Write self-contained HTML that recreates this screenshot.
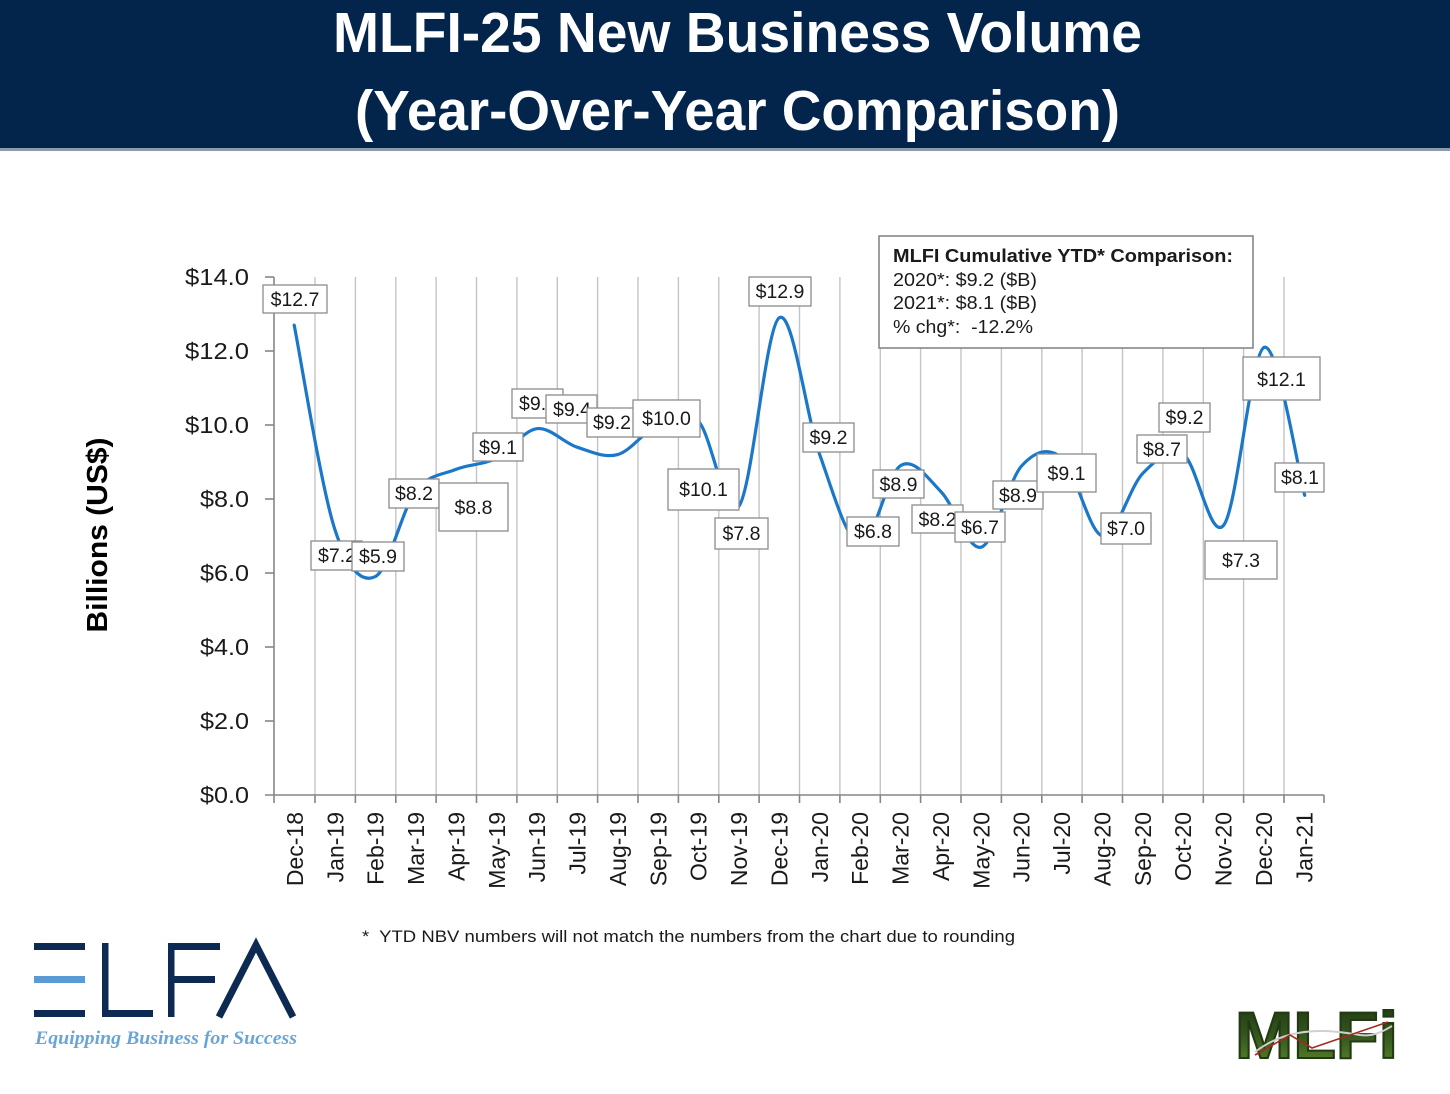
<!DOCTYPE html>
<html><head><meta charset="utf-8"><style>
html,body{margin:0;padding:0;background:#fff;}
svg{display:block;}
</style></head><body>
<svg width="1450" height="1094" viewBox="0 0 1450 1094" xmlns="http://www.w3.org/2000/svg">
<defs>
<linearGradient id="mg" x1="0" y1="0" x2="0" y2="1">
<stop offset="0" stop-color="#1f3512"/><stop offset="0.5" stop-color="#34561c"/><stop offset="1" stop-color="#5f8a30"/>
</linearGradient>
</defs>
<rect x="0" y="0" width="1450" height="1094" fill="#fff"/>
<!-- header -->
<rect x="0" y="0" width="1450" height="150" fill="#03244b"/>
<rect x="0" y="148" width="1450" height="3" fill="#8d9aab"/>
<g font-family="'Liberation Sans',sans-serif" font-weight="bold" fill="#fff" font-size="57">
<text x="333" y="52" textLength="809" lengthAdjust="spacingAndGlyphs">MLFI-25 New Business Volume</text>
<text x="355" y="130" textLength="765" lengthAdjust="spacingAndGlyphs">(Year-Over-Year Comparison)</text>
</g>

<!-- gridlines -->
<g stroke="#c4c4c4" stroke-width="1.4">
<line x1="315.0" y1="277" x2="315.0" y2="795"/><line x1="355.4" y1="277" x2="355.4" y2="795"/><line x1="395.8" y1="277" x2="395.8" y2="795"/><line x1="436.1" y1="277" x2="436.1" y2="795"/><line x1="476.5" y1="277" x2="476.5" y2="795"/><line x1="516.9" y1="277" x2="516.9" y2="795"/><line x1="557.3" y1="277" x2="557.3" y2="795"/><line x1="597.6" y1="277" x2="597.6" y2="795"/><line x1="638.0" y1="277" x2="638.0" y2="795"/><line x1="678.4" y1="277" x2="678.4" y2="795"/><line x1="718.8" y1="277" x2="718.8" y2="795"/><line x1="759.1" y1="277" x2="759.1" y2="795"/><line x1="799.5" y1="277" x2="799.5" y2="795"/><line x1="839.9" y1="277" x2="839.9" y2="795"/><line x1="880.3" y1="277" x2="880.3" y2="795"/><line x1="920.6" y1="277" x2="920.6" y2="795"/><line x1="961.0" y1="277" x2="961.0" y2="795"/><line x1="1001.4" y1="277" x2="1001.4" y2="795"/><line x1="1041.8" y1="277" x2="1041.8" y2="795"/><line x1="1082.1" y1="277" x2="1082.1" y2="795"/><line x1="1122.5" y1="277" x2="1122.5" y2="795"/><line x1="1162.9" y1="277" x2="1162.9" y2="795"/><line x1="1203.3" y1="277" x2="1203.3" y2="795"/><line x1="1243.6" y1="277" x2="1243.6" y2="795"/><line x1="1284.0" y1="277" x2="1284.0" y2="795"/>
</g>
<!-- axes -->
<g stroke="#858585" stroke-width="1.6">
<line x1="274" y1="277" x2="274" y2="803"/>
<line x1="265" y1="795" x2="1324" y2="795"/>
<line x1="265" y1="721" x2="274" y2="721"/><line x1="265" y1="647" x2="274" y2="647"/><line x1="265" y1="573" x2="274" y2="573"/><line x1="265" y1="499" x2="274" y2="499"/><line x1="265" y1="425" x2="274" y2="425"/><line x1="265" y1="351" x2="274" y2="351"/><line x1="265" y1="277" x2="274" y2="277"/>
<line x1="315.0" y1="795" x2="315.0" y2="803"/><line x1="355.4" y1="795" x2="355.4" y2="803"/><line x1="395.8" y1="795" x2="395.8" y2="803"/><line x1="436.1" y1="795" x2="436.1" y2="803"/><line x1="476.5" y1="795" x2="476.5" y2="803"/><line x1="516.9" y1="795" x2="516.9" y2="803"/><line x1="557.3" y1="795" x2="557.3" y2="803"/><line x1="597.6" y1="795" x2="597.6" y2="803"/><line x1="638.0" y1="795" x2="638.0" y2="803"/><line x1="678.4" y1="795" x2="678.4" y2="803"/><line x1="718.8" y1="795" x2="718.8" y2="803"/><line x1="759.1" y1="795" x2="759.1" y2="803"/><line x1="799.5" y1="795" x2="799.5" y2="803"/><line x1="839.9" y1="795" x2="839.9" y2="803"/><line x1="880.3" y1="795" x2="880.3" y2="803"/><line x1="920.6" y1="795" x2="920.6" y2="803"/><line x1="961.0" y1="795" x2="961.0" y2="803"/><line x1="1001.4" y1="795" x2="1001.4" y2="803"/><line x1="1041.8" y1="795" x2="1041.8" y2="803"/><line x1="1082.1" y1="795" x2="1082.1" y2="803"/><line x1="1122.5" y1="795" x2="1122.5" y2="803"/><line x1="1162.9" y1="795" x2="1162.9" y2="803"/><line x1="1203.3" y1="795" x2="1203.3" y2="803"/><line x1="1243.6" y1="795" x2="1243.6" y2="803"/><line x1="1284.0" y1="795" x2="1284.0" y2="803"/><line x1="1324" y1="795" x2="1324" y2="803"/>
</g>
<!-- y labels -->
<g font-family="'Liberation Sans',sans-serif" font-size="23" fill="#1a1a1a" text-anchor="end">
<text x="249" y="803" textLength="49" lengthAdjust="spacingAndGlyphs">$0.0</text>
<text x="249" y="729" textLength="49" lengthAdjust="spacingAndGlyphs">$2.0</text>
<text x="249" y="655" textLength="49" lengthAdjust="spacingAndGlyphs">$4.0</text>
<text x="249" y="581" textLength="49" lengthAdjust="spacingAndGlyphs">$6.0</text>
<text x="249" y="507" textLength="49" lengthAdjust="spacingAndGlyphs">$8.0</text>
<text x="249" y="433" textLength="64" lengthAdjust="spacingAndGlyphs">$10.0</text>
<text x="249" y="359" textLength="64" lengthAdjust="spacingAndGlyphs">$12.0</text>
<text x="249" y="285" textLength="64" lengthAdjust="spacingAndGlyphs">$14.0</text>
</g>
<text transform="translate(107,535) rotate(-90)" font-family="'Liberation Sans',sans-serif" font-weight="bold" font-size="29" fill="#000" text-anchor="middle" textLength="195" lengthAdjust="spacingAndGlyphs">Billions (US$)</text>
<!-- x labels -->
<g font-family="'Liberation Sans',sans-serif" font-size="23" fill="#1a1a1a" text-anchor="end">
<text transform="translate(303,812) rotate(-90)">Dec-18</text>
<text transform="translate(343.4,812) rotate(-90)">Jan-19</text>
<text transform="translate(383.7,812) rotate(-90)">Feb-19</text>
<text transform="translate(424.1,812) rotate(-90)">Mar-19</text>
<text transform="translate(464.5,812) rotate(-90)">Apr-19</text>
<text transform="translate(504.9,812) rotate(-90)">May-19</text>
<text transform="translate(545.2,812) rotate(-90)">Jun-19</text>
<text transform="translate(585.6,812) rotate(-90)">Jul-19</text>
<text transform="translate(626,812) rotate(-90)">Aug-19</text>
<text transform="translate(666.4,812) rotate(-90)">Sep-19</text>
<text transform="translate(706.7,812) rotate(-90)">Oct-19</text>
<text transform="translate(747.1,812) rotate(-90)">Nov-19</text>
<text transform="translate(787.5,812) rotate(-90)">Dec-19</text>
<text transform="translate(827.9,812) rotate(-90)">Jan-20</text>
<text transform="translate(868.2,812) rotate(-90)">Feb-20</text>
<text transform="translate(908.6,812) rotate(-90)">Mar-20</text>
<text transform="translate(949,812) rotate(-90)">Apr-20</text>
<text transform="translate(989.4,812) rotate(-90)">May-20</text>
<text transform="translate(1029.7,812) rotate(-90)">Jun-20</text>
<text transform="translate(1070.1,812) rotate(-90)">Jul-20</text>
<text transform="translate(1110.5,812) rotate(-90)">Aug-20</text>
<text transform="translate(1150.9,812) rotate(-90)">Sep-20</text>
<text transform="translate(1191.2,812) rotate(-90)">Oct-20</text>
<text transform="translate(1231.6,812) rotate(-90)">Nov-20</text>
<text transform="translate(1272,812) rotate(-90)">Dec-20</text>
<text transform="translate(1312.4,812) rotate(-90)">Jan-21</text>
</g>

<!-- line -->
<path fill="none" stroke="#1b78c9" stroke-width="3.2" stroke-linecap="round" stroke-linejoin="round" transform="translate(1,0)" d="M293.2,325.1 C299.9,359.0 320.1,486.7 333.6,528.6 C347.1,570.5 360.6,582.9 374.1,576.7 C387.6,570.5 401.0,509.5 414.5,491.6 C428.0,473.7 441.4,475.0 454.9,469.4 C468.4,463.9 481.8,465.1 495.3,458.3 C508.8,451.5 522.2,430.6 535.7,428.7 C549.2,426.9 562.7,442.9 576.2,447.2 C589.7,451.5 603.1,458.3 616.6,454.6 C630.1,450.9 643.5,430.6 657.0,425.0 C670.5,419.5 683.9,407.7 697.4,421.3 C710.9,434.9 724.3,523.7 737.8,506.4 C751.3,489.1 764.8,326.3 778.3,317.7 C791.8,309.1 805.2,417.0 818.7,454.6 C832.2,492.2 845.6,541.6 859.1,543.4 C872.6,545.3 886.0,474.3 899.5,465.7 C913.0,457.1 926.4,478.0 939.9,491.6 C953.4,505.2 966.9,551.4 980.4,547.1 C993.9,542.8 1007.3,480.5 1020.8,465.7 C1034.3,450.9 1047.7,446.6 1061.2,458.3 C1074.7,470.0 1088.1,533.5 1101.6,536.0 C1115.1,538.5 1128.5,486.7 1142.0,473.1 C1155.5,459.5 1169.0,446.0 1182.5,454.6 C1196.0,463.2 1209.4,542.8 1222.9,524.9 C1236.4,507.0 1249.8,352.2 1263.3,347.3 C1276.8,342.4 1297.0,470.6 1303.7,495.3"/>

<!-- data labels -->
<g font-family="'Liberation Sans',sans-serif" font-size="19.5" fill="#1a1a1a" text-anchor="middle" stroke-width="1.3">
<rect x="263" y="285" width="64" height="28" fill="#fff" stroke="#8c8c8c"/><text x="295" y="306">$12.7</text>
<rect x="311" y="541" width="51" height="29" fill="#fff" stroke="#8c8c8c"/><text x="337" y="562">$7.2</text>
<rect x="352" y="542" width="52" height="29" fill="#fff" stroke="#8c8c8c"/><text x="378" y="563">$5.9</text>
<rect x="389" y="479" width="50" height="29" fill="#fff" stroke="#8c8c8c"/><text x="414" y="500">$8.2</text>
<rect x="439" y="483" width="69" height="48" fill="#fff" stroke="#8c8c8c"/><text x="473.5" y="514">$8.8</text>
<rect x="473" y="433" width="50" height="28" fill="#fff" stroke="#8c8c8c"/><text x="498" y="454">$9.1</text>
<rect x="512" y="389" width="51" height="29" fill="#fff" stroke="#8c8c8c"/><text x="538" y="410">$9.9</text>
<rect x="546" y="395" width="51" height="28" fill="#fff" stroke="#8c8c8c"/><text x="572" y="416">$9.4</text>
<rect x="587" y="408" width="50" height="29" fill="#fff" stroke="#8c8c8c"/><text x="612" y="429">$9.2</text>
<rect x="633" y="400" width="67" height="37" fill="#fff" stroke="#8c8c8c"/><text x="666.5" y="425">$10.0</text>
<rect x="668" y="469" width="71" height="41" fill="#fff" stroke="#8c8c8c"/><text x="703.5" y="496">$10.1</text>
<rect x="715" y="518" width="53" height="31" fill="#fff" stroke="#8c8c8c"/><text x="741.5" y="540">$7.8</text>
<rect x="749" y="277" width="62" height="29" fill="#fff" stroke="#8c8c8c"/><text x="780" y="298">$12.9</text>
<rect x="803" y="423" width="51" height="29" fill="#fff" stroke="#8c8c8c"/><text x="828.5" y="444">$9.2</text>
<rect x="847" y="517" width="52" height="29" fill="#fff" stroke="#8c8c8c"/><text x="873" y="538">$6.8</text>
<rect x="873" y="470" width="51" height="28" fill="#fff" stroke="#8c8c8c"/><text x="898.5" y="491">$8.9</text>
<rect x="912" y="505" width="51" height="28" fill="#fff" stroke="#8c8c8c"/><text x="937.5" y="526">$8.2</text>
<rect x="955" y="512" width="50" height="30" fill="#fff" stroke="#8c8c8c"/><text x="980" y="534">$6.7</text>
<rect x="993" y="481" width="50" height="28" fill="#fff" stroke="#8c8c8c"/><text x="1018" y="502">$8.9</text>
<rect x="1037" y="454" width="59" height="38" fill="#fff" stroke="#8c8c8c"/><text x="1066.5" y="480">$9.1</text>
<rect x="1101" y="513" width="50" height="31" fill="#fff" stroke="#8c8c8c"/><text x="1126" y="535">$7.0</text>
<rect x="1159" y="403" width="51" height="29" fill="#fff" stroke="#8c8c8c"/><text x="1184.5" y="424">$9.2</text>
<rect x="1137" y="435" width="50" height="28" fill="#fff" stroke="#8c8c8c"/><text x="1162" y="456">$8.7</text>
<rect x="1205" y="541" width="72" height="38" fill="#fff" stroke="#8c8c8c"/><text x="1241" y="567">$7.3</text>
<rect x="1243" y="357" width="77" height="43" fill="#fff" stroke="#8c8c8c"/><text x="1281.5" y="386">$12.1</text>
<rect x="1275" y="463" width="49" height="29" fill="#fff" stroke="#8c8c8c"/><text x="1300" y="484">$8.1</text>
</g>

<!-- legend box -->
<rect x="879" y="236" width="374" height="112" fill="#fff" stroke="#7f7f7f" stroke-width="1.5"/>
<g font-family="'Liberation Sans',sans-serif" font-size="18.5" fill="#1a1a1a">
<text x="893" y="262" font-weight="bold" textLength="340" lengthAdjust="spacingAndGlyphs">MLFI Cumulative YTD* Comparison:</text>
<text x="893" y="286" textLength="144" lengthAdjust="spacingAndGlyphs">2020*: $9.2 ($B)</text>
<text x="893" y="309" textLength="144" lengthAdjust="spacingAndGlyphs">2021*: $8.1 ($B)</text>
<text x="893" y="333" textLength="140" lengthAdjust="spacingAndGlyphs" xml:space="preserve">% chg*:  -12.2%</text>
</g>

<!-- footnote -->
<text x="362" y="942" font-family="'Liberation Sans',sans-serif" font-size="16.5" fill="#1a1a1a" textLength="653" lengthAdjust="spacingAndGlyphs" xml:space="preserve">*  YTD NBV numbers will not match the numbers from the chart due to rounding</text>

<!-- ELFA logo -->
<g fill="#0d2a52">
<rect x="34" y="943" width="51" height="7"/>
<rect x="34" y="976" width="51" height="7" fill="#5a9bd4"/>
<rect x="34" y="1010" width="51" height="7"/>
<rect x="102" y="943" width="6.5" height="74"/>
<rect x="102" y="1010" width="51" height="7"/>
<rect x="168" y="943" width="6.5" height="74"/>
<rect x="168" y="943" width="52" height="7"/>
<rect x="168" y="976" width="47" height="7"/>
</g>
<polyline points="219,1017 256,945 293,1017" fill="none" stroke="#0d2a52" stroke-width="7" stroke-linejoin="miter"/>
<text x="35" y="1044" font-family="'Liberation Serif',serif" font-style="italic" font-weight="bold" font-size="19" fill="#6aa5da" textLength="262" lengthAdjust="spacingAndGlyphs">Equipping Business for Success</text>

<!-- MLFI logo -->
<text x="1235" y="1058" font-family="'Liberation Sans',sans-serif" font-weight="bold" font-size="66" fill="url(#mg)" stroke="#223a14" stroke-width="2" textLength="163" lengthAdjust="spacingAndGlyphs">MLFi</text>
<path d="M1255,1052 C1290,1025 1330,1030 1360,1035 C1375,1037 1385,1030 1392,1026" fill="none" stroke="#d0d0d0" stroke-width="2"/>
<polyline points="1255,1055 1290,1035 1312,1048 1388,1022" fill="none" stroke="#a52a1e" stroke-width="1.6"/>
</svg>
</body></html>
